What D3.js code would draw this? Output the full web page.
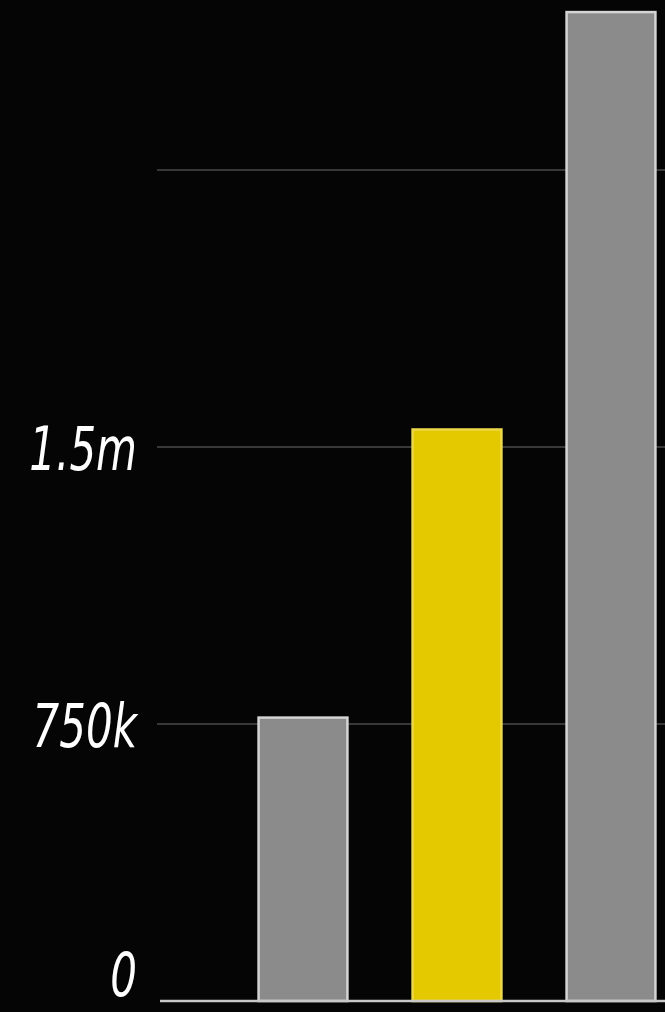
<!DOCTYPE html>
<html>
<head>
<meta charset="utf-8">
<script src="https://cdn.jsdelivr.net/npm/d3@7"></script>
<style>
  html, body { margin: 0; padding: 0; background: #050505; }
  svg { display: block; }
</style>
</head>
<body>
<div class="chart"></div>
<script>
var svgWidth = 665;
var svgHeight = 1012;

// chart values
var categories = ["A", "B", "C"];
var values = [770000, 1550000, 2680000];
var highlighted = ["B"];
var tickValues = [0, 750000, 1500000, 2250000];
var tickLabels = ["0", "750k", "1.5m", ""];

var svg = d3.select(".chart")
  .append("svg")
  .attr("width", svgWidth)
  .attr("height", svgHeight);

svg.append("rect")
  .attr("width", svgWidth)
  .attr("height", svgHeight)
  .attr("fill", "#050505");

// scales
var yScale = d3.scaleLinear()
  .domain([0, 2710000])
  .range([1001, 0]);

var xScale = d3.scaleBand()
  .domain(categories)
  .range([226, 688])
  .paddingInner(0.41)
  .paddingOuter(0.205);

// gridlines
svg.append("g")
  .selectAll("line")
  .data(tickValues.slice(1))
  .enter()
  .append("line")
  .attr("x1", 157)
  .attr("x2", svgWidth)
  .attr("y1", d => yScale(d))
  .attr("y2", d => yScale(d))
  .attr("stroke", "#4a4a4a")
  .attr("stroke-width", 1.5);

// bars
svg.append("g")
  .selectAll("rect")
  .data(categories)
  .enter()
  .append("rect")
  .attr("x", d => xScale(d) + 1)
  .attr("width", xScale.bandwidth() - 2)
  .attr("y", (d, i) => yScale(values[i]) + 1)
  .attr("height", (d, i) => yScale(0) - yScale(values[i]) - 1)
  .attr("fill", d => highlighted.includes(d) ? "#e4c900" : "#8b8b8b")
  .attr("stroke", d => highlighted.includes(d) ? "#ecd84a" : "#d4d4d4")
  .attr("stroke-width", 2.5);

// baseline
svg.append("line")
  .attr("x1", 160)
  .attr("x2", svgWidth)
  .attr("y1", yScale(0))
  .attr("y2", yScale(0))
  .attr("stroke", "#c8c8c8")
  .attr("stroke-width", 2.5);

// tick labels (condensed by squeezing horizontally)
svg.append("g")
  .selectAll("text")
  .data(tickValues)
  .enter()
  .append("text")
  .attr("transform", d => `translate(137, ${Math.min(yScale(d) + 23, svgHeight - 16)}) scale(0.7, 1)`)
  .attr("text-anchor", "end")
  .attr("fill", "#ffffff")
  .attr("font-family", "'DejaVu Sans', sans-serif")
  .attr("font-style", "italic")
  .attr("font-size", "60px")
  .text((d, i) => tickLabels[i]);
</script>
</body>
</html>
